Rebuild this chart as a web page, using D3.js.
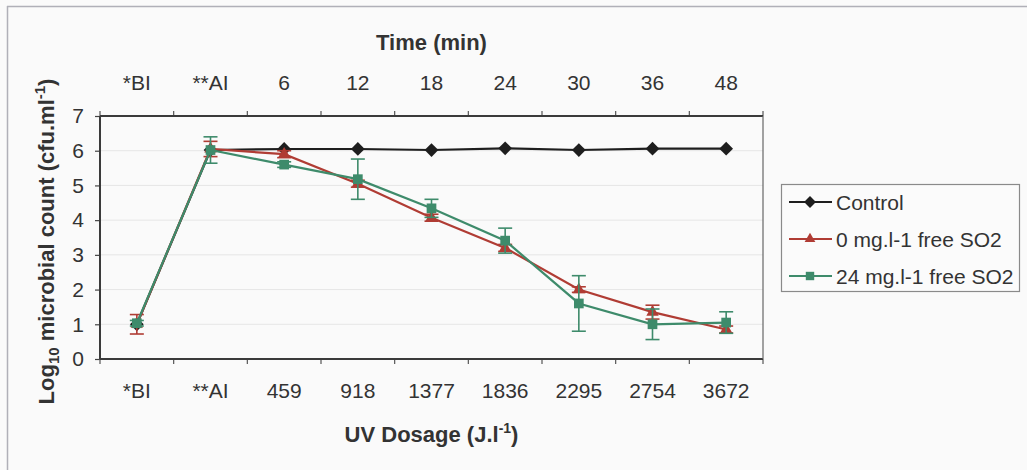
<!DOCTYPE html>
<html><head><meta charset="utf-8">
<script src="https://cdn.jsdelivr.net/npm/d3@7"></script>
<style>
html,body{margin:0;padding:0;background:#fafafa;}
svg{display:block;font-family:"Liberation Sans",Arial,sans-serif;}
</style></head>
<body>
<svg id="chart" width="1027" height="470"></svg>
<script>
const doses = ["*BI","**AI","459","918","1377","1836","2295","2754","3672"];
const times = ["*BI","**AI","6","12","18","24","30","36","48"];
const seriesNames = ["Control","0 mg.l-1 free SO2","24 mg.l-1 free SO2"];
const control = [1.0,6.02,6.05,6.05,6.02,6.07,6.02,6.06,6.06];
const controlErr = [0,0,0,0,0,0,0,0,0];
const so2_0 = [1.0,6.05,5.9,5.05,4.07,3.2,2.0,1.35,0.85];
const so2_0Err = [0.28,0.22,0.1,0.1,0.1,0.1,0.08,0.2,0.1];
const so2_24 = [1.03,6.02,5.6,5.18,4.34,3.41,1.6,1.0,1.05];
const so2_24Err = [0.08,0.38,0.08,0.58,0.26,0.36,0.8,0.44,0.31];
const yTicks = [0,1,2,3,4,5,6,7];

const svg = d3.select("#chart");
const W = 1027, H = 470;
const m = {left:100, right:264, top:116, bottom:111};
const x = d3.scaleBand().domain(doses).range([m.left, W - m.right]).padding(0);
const xt = d3.scaleBand().domain(times).range([m.left, W - m.right]).padding(0);
const y = d3.scaleLinear().domain([0,7]).range([H - m.bottom, m.top]);
const textCol = "#333";

// outer frame
svg.append("line").attr("x1",7).attr("x2",W).attr("y1",6.5).attr("y2",6.5).attr("stroke","#b0b0b8").attr("stroke-width",1.5);
svg.append("line").attr("x1",7.5).attr("x2",7.5).attr("y1",6).attr("y2",H).attr("stroke","#b0b0b8").attr("stroke-width",1.5);

// gridlines
svg.append("g").selectAll("line").data(yTicks.filter(d=>d>0 && d<7)).join("line")
  .attr("x1",m.left).attr("x2",W-m.right).attr("y1",d=>y(d)).attr("y2",d=>y(d))
  .attr("stroke","#e6e6e6").attr("stroke-width",1);

// boundaries for tick marks
const bounds = doses.map(d=>x(d)).concat([x.range()[1]]);

// y axis
const gy = svg.append("g").attr("transform",`translate(${m.left},0)`)
  .call(d3.axisLeft(y).tickValues(yTicks).tickSize(5).tickPadding(11).tickFormat(d3.format("d")));
gy.select(".domain").remove();
gy.selectAll(".tick line").attr("stroke","#444").attr("stroke-width",1.2);
gy.selectAll("text").attr("font-size",21).attr("fill",textCol).attr("font-family","Liberation Sans, Arial, sans-serif");

// bottom axis labels
const gx = svg.append("g").attr("transform",`translate(0,${y(0)})`)
  .call(d3.axisBottom(x).tickSize(0).tickPadding(24));
gx.select(".domain").remove();
gx.selectAll("text").attr("font-size",21).attr("fill",textCol).attr("font-family","Liberation Sans, Arial, sans-serif");
// top axis labels
const gt = svg.append("g").attr("transform",`translate(0,${y(7)})`)
  .call(d3.axisTop(xt).tickSize(0).tickPadding(26));
gt.select(".domain").remove();
gt.selectAll("text").attr("font-size",21).attr("fill",textCol).attr("font-family","Liberation Sans, Arial, sans-serif");

// boundary ticks
svg.append("g").selectAll("line").data(bounds).join("line")
  .attr("x1",d=>d).attr("x2",d=>d).attr("y1",y(0)).attr("y2",y(0)+5).attr("stroke","#555").attr("stroke-width",1.2);
svg.append("g").selectAll("line").data(bounds).join("line")
  .attr("x1",d=>d).attr("x2",d=>d).attr("y1",y(7)).attr("y2",y(7)-5).attr("stroke","#555").attr("stroke-width",1.2);

// frame
svg.append("line").attr("x1",m.left).attr("x2",W-m.right).attr("y1",y(0)).attr("y2",y(0)).attr("stroke","#3a3a3a").attr("stroke-width",2);
svg.append("line").attr("x1",m.left).attr("x2",W-m.right).attr("y1",y(7)).attr("y2",y(7)).attr("stroke","#3a3a3a").attr("stroke-width",2);
svg.append("line").attr("x1",m.left).attr("x2",m.left).attr("y1",y(7)).attr("y2",y(0)).attr("stroke","#3a3a3a").attr("stroke-width",2);
svg.append("line").attr("x1",W-m.right).attr("x2",W-m.right).attr("y1",y(7)).attr("y2",y(0)).attr("stroke","#666").attr("stroke-width",1.2);

// titles
svg.append("text").attr("x",(m.left+W-m.right)/2).attr("y",50).attr("text-anchor","middle")
  .attr("font-size",22).attr("font-weight","bold").attr("fill",textCol).text("Time (min)");
const xTitle = svg.append("text").attr("x",(m.left+W-m.right)/2).attr("y",442).attr("text-anchor","middle")
  .attr("font-size",22).attr("font-weight","bold").attr("fill",textCol);
xTitle.append("tspan").text("UV Dosage (J.l");
xTitle.append("tspan").attr("font-size",14).attr("dy",-9).text("-1");
xTitle.append("tspan").attr("dy",9).text(")");

const yTitle = svg.append("text").attr("transform",`translate(54,${(y(0)+y(7))/2+4}) rotate(-90)`)
  .attr("text-anchor","middle").attr("font-size",22).attr("font-weight","bold").attr("fill",textCol);
yTitle.append("tspan").text("Log");
yTitle.append("tspan").attr("font-size",15).attr("dy",5).text("10");
yTitle.append("tspan").attr("dy",-5).text(" microbial count (cfu.ml");
yTitle.append("tspan").attr("font-size",15).attr("dy",-9).text("-1");
yTitle.append("tspan").attr("dy",9).text(")");

// series
const series = [
  {name:seriesNames[0], vals:control, err:controlErr, color:"#1e1e1e", sym:d3.symbolDiamond2, size:120},
  {name:seriesNames[1], vals:so2_0, err:so2_0Err, color:"#b03c34", sym:d3.symbolTriangle2, size:110},
  {name:seriesNames[2], vals:so2_24, err:so2_24Err, color:"#3e8b6b", sym:d3.symbolSquare2, size:120}
];
const cx = d => x(d) + x.bandwidth()/2;
const line = d3.line().x(d=>cx(d.c)).y(d=>y(d.v));

series.forEach(s=>{
  const pts = doses.map((c,i)=>({c, v:s.vals[i], e:s.err[i]}));
  const g = svg.append("g");
  g.append("path").datum(pts).attr("d",line).attr("fill","none").attr("stroke",s.color).attr("stroke-width",2.2);
  const eb = g.selectAll("g.eb").data(pts.filter(p=>p.e>0)).join("g");
  eb.append("line").attr("x1",p=>cx(p.c)).attr("x2",p=>cx(p.c)).attr("y1",p=>y(p.v-p.e)).attr("y2",p=>y(p.v+p.e)).attr("stroke",s.color).attr("stroke-width",1.6);
  eb.append("line").attr("x1",p=>cx(p.c)-7).attr("x2",p=>cx(p.c)+7).attr("y1",p=>y(p.v+p.e)).attr("y2",p=>y(p.v+p.e)).attr("stroke",s.color).attr("stroke-width",1.6);
  eb.append("line").attr("x1",p=>cx(p.c)-7).attr("x2",p=>cx(p.c)+7).attr("y1",p=>y(p.v-p.e)).attr("y2",p=>y(p.v-p.e)).attr("stroke",s.color).attr("stroke-width",1.6);
  g.selectAll("path.m").data(pts).join("path").attr("class","m")
    .attr("transform",p=>`translate(${cx(p.c)},${y(p.v)})`)
    .attr("d",d3.symbol(s.sym,s.size)).attr("fill",s.color);
});

// legend
const lg = svg.append("g");
lg.append("rect").attr("x",781.5).attr("y",184.5).attr("width",238).attr("height",107)
  .attr("fill","#fbfbfb").attr("stroke","#8a8a8a").attr("stroke-width",1.2);
const ly = d3.scalePoint().domain(seriesNames).range([202,276]);
series.forEach(s=>{
  const yy = ly(s.name);
  lg.append("line").attr("x1",789).attr("x2",832).attr("y1",yy).attr("y2",yy).attr("stroke",s.color).attr("stroke-width",2);
  lg.append("path").attr("transform",`translate(810,${yy})`).attr("d",d3.symbol(s.sym,s.size*0.75)).attr("fill",s.color);
  lg.append("text").attr("x",836).attr("y",yy+7.5).attr("font-size",21).attr("fill",textCol).text(s.name);
});
</script>
</body></html>
